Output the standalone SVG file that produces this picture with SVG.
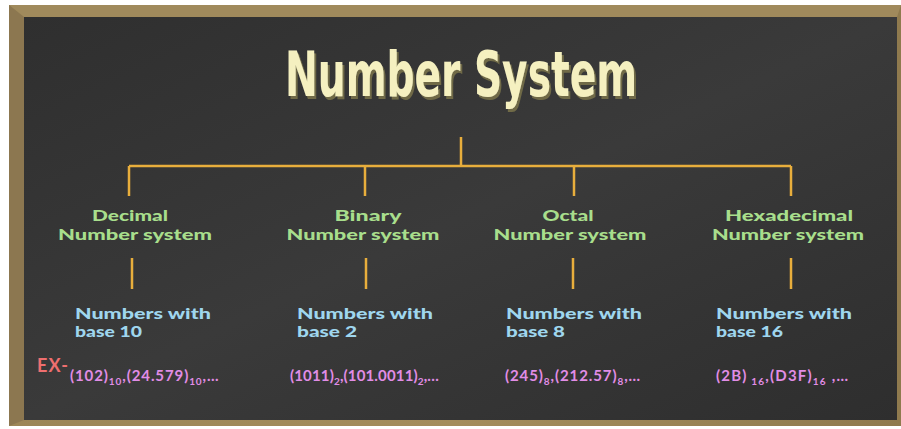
<svg xmlns="http://www.w3.org/2000/svg" width="901" height="429" viewBox="0 0 901 429">
  <defs>
    <linearGradient id="board" x1="0" y1="0" x2="1" y2="1">
      <stop offset="0" stop-color="#2f2f2f"/>
      <stop offset="0.5" stop-color="#3a3a3a"/>
      <stop offset="1" stop-color="#2e2e2e"/>
    </linearGradient>
    <linearGradient id="frame" x1="0" y1="0" x2="1" y2="0">
      <stop offset="0" stop-color="#9c8657"/>
      <stop offset="0.5" stop-color="#a48d5c"/>
      <stop offset="1" stop-color="#8f7a4e"/>
    </linearGradient>
    <filter id="shadow" x="-5%" y="-20%" width="110%" height="140%">
      <feDropShadow dx="2" dy="3" stdDeviation="0.3" flood-color="#6f6a46"/>
    </filter>
  </defs>
  <style>
    .conn { stroke: #e8ae3c; stroke-width: 2.5; fill: none; }
    .title { font-family: "DejaVu Sans Condensed", "Liberation Sans", sans-serif; font-weight: bold; font-size: 62px; fill: #f5f0c0; text-anchor: middle; }
    .lab { font-family: "Lato", "Open Sans", sans-serif; font-weight: 900; font-size: 15px; fill: #a8de8c; text-anchor: middle; }
    .desc { font-family: "Lato", "Open Sans", sans-serif; font-weight: 900; font-size: 15px; fill: #9fd6ee; }
    .ex { font-family: "Lato", "Open Sans", sans-serif; font-weight: bold; font-size: 15px; fill: #e18de6; }
    .sub { font-size: 10px; }
    .exl { font-family: "Lato", "Open Sans", sans-serif; font-weight: bold; font-size: 18px; fill: #ee6f6f; }
  </style>
  <rect x="0" y="0" width="901" height="429" fill="#ffffff"/>
  <!-- frame -->
  <rect x="9" y="5" width="892" height="421" fill="url(#frame)"/>
  <polygon points="9,5 901,5 897,17 24,17" fill="#a08a5c"/>
  <polygon points="9,5 24,17 24,420 9,426" fill="#8c7750"/>
  <rect x="24" y="17" width="873" height="403" fill="url(#board)"/>

  <g id="title">
    <text class="title" x="461" y="96" textLength="352" lengthAdjust="spacingAndGlyphs" filter="url(#shadow)">Number System</text>
  </g>

  <g id="connectors">
    <line class="conn" x1="461" y1="137" x2="461" y2="166"/>
    <line class="conn" x1="129" y1="166" x2="791" y2="166"/>
    <line class="conn" x1="129" y1="166" x2="129" y2="196"/>
    <line class="conn" x1="365" y1="166" x2="365" y2="196"/>
    <line class="conn" x1="574" y1="166" x2="574" y2="196"/>
    <line class="conn" x1="791" y1="166" x2="791" y2="196"/>
    <line class="conn" x1="132" y1="258" x2="132" y2="289"/>
    <line class="conn" x1="366" y1="258" x2="366" y2="289"/>
    <line class="conn" x1="573" y1="258" x2="573" y2="289"/>
    <line class="conn" x1="791" y1="258" x2="791" y2="289"/>
  </g>

  <g id="decimal">
    <text class="lab" x="130" y="221" textLength="76" lengthAdjust="spacingAndGlyphs">Decimal</text>
    <text class="lab" x="135" y="240" textLength="154" lengthAdjust="spacingAndGlyphs">Number system</text>
    <text class="desc" x="75" y="319" textLength="136" lengthAdjust="spacingAndGlyphs">Numbers with</text>
    <text class="desc" x="75" y="337" textLength="67" lengthAdjust="spacingAndGlyphs">base 10</text>
    <text class="exl" x="37" y="372" textLength="31" lengthAdjust="spacing">EX-</text>
    <text class="ex" x="70" y="381" letter-spacing="0.9">(102)<tspan class="sub" dy="4">10</tspan><tspan dy="-4">,(24.579)</tspan><tspan class="sub" dy="4">10</tspan><tspan dy="-4">,…</tspan></text>
  </g>

  <g id="binary">
    <text class="lab" x="368" y="221" textLength="67" lengthAdjust="spacingAndGlyphs">Binary</text>
    <text class="lab" x="363" y="240" textLength="153" lengthAdjust="spacingAndGlyphs">Number system</text>
    <text class="desc" x="297" y="319" textLength="136" lengthAdjust="spacingAndGlyphs">Numbers with</text>
    <text class="desc" x="297" y="337" textLength="60" lengthAdjust="spacingAndGlyphs">base 2</text>
    <text class="ex" x="290" y="381" letter-spacing="0.15">(1011)<tspan class="sub" dy="4">2</tspan><tspan dy="-4">,(101.0011)</tspan><tspan class="sub" dy="4">2</tspan><tspan dy="-4">,…</tspan></text>
  </g>

  <g id="octal">
    <text class="lab" x="568" y="221" textLength="51" lengthAdjust="spacingAndGlyphs">Octal</text>
    <text class="lab" x="570" y="240" textLength="153" lengthAdjust="spacingAndGlyphs">Number system</text>
    <text class="desc" x="506" y="319" textLength="136" lengthAdjust="spacingAndGlyphs">Numbers with</text>
    <text class="desc" x="506" y="337" textLength="59" lengthAdjust="spacingAndGlyphs">base 8</text>
    <text class="ex" x="505" y="381" letter-spacing="0.9">(245)<tspan class="sub" dy="4">8</tspan><tspan dy="-4">,(212.57)</tspan><tspan class="sub" dy="4">8</tspan><tspan dy="-4">,…</tspan></text>
  </g>

  <g id="hexadecimal">
    <text class="lab" x="789" y="221" textLength="128" lengthAdjust="spacingAndGlyphs">Hexadecimal</text>
    <text class="lab" x="788" y="240" textLength="152" lengthAdjust="spacingAndGlyphs">Number system</text>
    <text class="desc" x="716" y="319" textLength="136" lengthAdjust="spacingAndGlyphs">Numbers with</text>
    <text class="desc" x="716" y="337" textLength="67" lengthAdjust="spacingAndGlyphs">base 16</text>
    <text class="ex" x="716" y="381" letter-spacing="1.2">(2B)<tspan class="sub" dy="4"> 16</tspan><tspan dy="-4">,(D3F)</tspan><tspan class="sub" dy="4">16</tspan><tspan dy="-4"> ,…</tspan></text>
  </g>
</svg>
